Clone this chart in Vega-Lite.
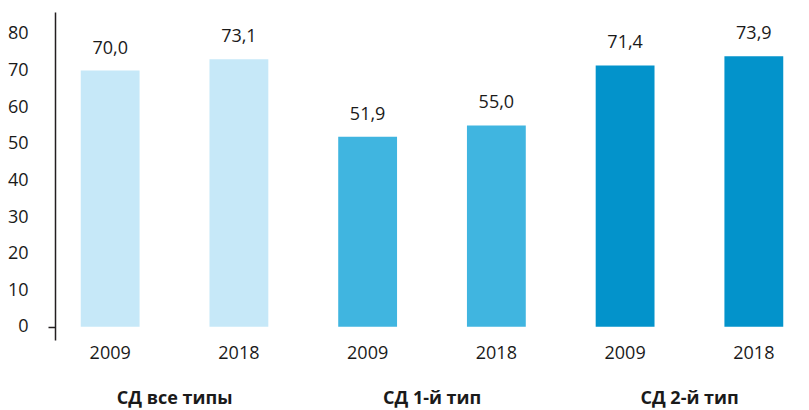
{
  "$schema": "https://vega.github.io/schema/vega-lite/v6.json",
  "width": 754,
  "height": 328,
  "autosize": {"type": "none"},
  "padding": {"left": 55, "top": 12, "right": 0, "bottom": 70},
  "background": "white",
  "config": {
    "view": {"stroke": null},
    "font": "Open Sans",
    "locale": {"number": {"decimal": ",", "thousands": " ", "grouping": [3], "currency": ["", ""]}}
  },
  "data": {
    "values": [
      {"cat": "СД все типы 2009", "group": "СД все типы", "year": "2009", "value": 70.0},
      {"cat": "СД все типы 2018", "group": "СД все типы", "year": "2018", "value": 73.1},
      {"cat": "СД 1-й тип 2009", "group": "СД 1-й тип", "year": "2009", "value": 51.9},
      {"cat": "СД 1-й тип 2018", "group": "СД 1-й тип", "year": "2018", "value": 55.0},
      {"cat": "СД 2-й тип 2009", "group": "СД 2-й тип", "year": "2009", "value": 71.4},
      {"cat": "СД 2-й тип 2018", "group": "СД 2-й тип", "year": "2018", "value": 73.9}
    ]
  },
  "encoding": {
    "x": {
      "field": "cat",
      "type": "nominal",
      "sort": null,
      "scale": {"paddingInner": 0.543, "paddingOuter": 0.2},
      "axis": {
        "title": null,
        "domain": false,
        "ticks": false,
        "labelAngle": 0,
        "labelPadding": 4,
        "labelFont": "Open Sans",
        "labelFontSize": 18,
        "labelColor": "#1a1a1a",
        "labelExpr": "substring(datum.label, length(datum.label) - 4)"
      }
    }
  },
  "layer": [
    {
      "mark": {"type": "bar"},
      "encoding": {
        "y": {
          "field": "value",
          "type": "quantitative",
          "scale": {"domain": [-3.6, 86], "nice": false, "zero": false},
          "axis": {
            "title": null,
            "values": [0, 10, 20, 30, 40, 50, 60, 70, 80],
            "grid": false,
            "domainColor": "#231f20",
            "domainWidth": 1.5,
            "tickSize": 7,
            "tickWidth": 1.5,
            "tickColor": {"condition": {"test": "datum.value === 0", "value": "#231f20"}, "value": "transparent"},
            "labelPadding": 20,
            "labelFont": "Open Sans",
            "labelFontSize": 18,
            "labelColor": "#1a1a1a"
          }
        },
        "y2": {"datum": 0},
        "color": {
          "field": "group",
          "type": "nominal",
          "scale": {"domain": ["СД все типы", "СД 1-й тип", "СД 2-й тип"], "range": ["#C6E8F8", "#40B5E0", "#0393CB"]},
          "legend": null
        }
      }
    },
    {
      "mark": {"type": "rule", "stroke": "#231f20", "strokeWidth": 1.5},
      "encoding": {"y": {"datum": 0}}
    },
    {
      "mark": {"type": "text", "baseline": "alphabetic", "dy": -17, "fontSize": 18, "font": "Open Sans", "color": "#1a1a1a"},
      "encoding": {
        "y": {"field": "value", "type": "quantitative"},
        "text": {"field": "value", "type": "quantitative", "format": ".1f"}
      }
    },
    {
      "transform": [{"filter": "datum.year === '2009'"}],
      "mark": {"type": "text", "baseline": "alphabetic", "dx": 64.5, "dy": 77, "fontSize": 18, "fontWeight": "bold", "font": "Open Sans", "color": "#1a1a1a"},
      "encoding": {
        "y": {"datum": 0},
        "text": {"field": "group", "type": "nominal"}
      }
    }
  ]
}
